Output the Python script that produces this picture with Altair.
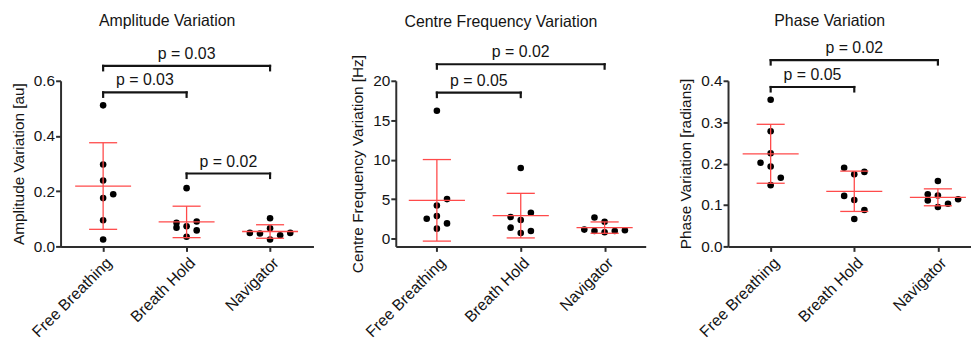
import altair as alt
import pandas as pd

categories = ["Free Breathing", "Breath Hold", "Navigator"]

# ---- Amplitude Variation [au] ----
amp_free = [0.511, 0.297, 0.239, 0.175, 0.095, 0.025, 0.189]
amp_hold = [0.211, 0.086, 0.068, 0.073, 0.090, 0.058, 0.035]
amp_nav = [0.102, 0.066, 0.025, 0.049, 0.047, 0.040, 0.049]
amp_free_col = [0, 0, 0, 0, 0, 0, 1]
amp_hold_col = [0, -1, -1, 0, 1, 1, 0]
amp_nav_col = [0, 0, 0, -2, -1, 1, 2]
amp_pairs = [(0, 1), (0, 2), (1, 2)]
amp_levels = [0.558, 0.654, 0.264]
amp_p = ["p = 0.03", "p = 0.03", "p = 0.02"]
amp_ticks = [0.0, 0.2, 0.4, 0.6]

# ---- Centre Frequency Variation [Hz] ----
cf_free = [16.2, 5.0, 4.18, 2.84, 2.5, 1.92, 1.25]
cf_hold = [8.95, 3.26, 2.72, 2.34, 1.38, 0.96, 0.71]
cf_nav = [2.67, 2.13, 1.13, 0.96, 0.79, 0.96, 1.04]
cf_free_col = [0, 1, 0, 0, -1, 1, 0]
cf_hold_col = [0, 1, -1, 0, -1, 1, 0]
cf_nav_col = [-1, 0, -2, -1, 0, 1, 2]
cf_pairs = [(0, 1), (0, 2)]
cf_levels = [18.5, 22.1]
cf_p = ["p = 0.05", "p = 0.02"]
cf_ticks = [0, 5, 10, 15, 20]

# ---- Phase Variation [radians] ----
ph_free = [0.354, 0.278, 0.225, 0.202, 0.193, 0.166, 0.148]
ph_hold = [0.190, 0.180, 0.174, 0.122, 0.112, 0.088, 0.066]
ph_nav = [0.158, 0.126, 0.123, 0.111, 0.095, 0.103, 0.114]
ph_free_col = [0, 0, 0, -1, 0, 1, 0]
ph_hold_col = [-1, 1, 0, -1, 0, 1, 0]
ph_nav_col = [0, -1, 0, -1, 0, 1, 2]
ph_pairs = [(0, 1), (0, 2)]
ph_levels = [0.385, 0.450]
ph_p = ["p = 0.05", "p = 0.02"]
ph_ticks = [0.0, 0.1, 0.2, 0.3, 0.4]

FONT = "Liberation Sans"
RED = "#ff4a4a"
INK = "#141414"
AXC = "#2e2e2e"
SLOT = 0.121
HALF_MEAN = 0.335
HALF_CAP = 0.168
H = 167

label_expr = "[" + ",".join("'" + c + "'" for c in categories) + "][datum.value]"


def panel(title, ytitle, groups, cols, pairs, levels, pvals, ydomain, yticks,
          yfmt, width, xdomain, toff):
    rows = []
    for i, (vals, cs) in enumerate(zip(groups, cols)):
        for v, c in zip(vals, cs):
            rows.append({"idx": i, "col": c, "value": v})
    df = pd.DataFrame(rows)
    br = pd.DataFrame({
        "a": [p[0] for p in pairs],
        "b": [p[1] for p in pairs],
        "level": levels,
        "label": pvals,
    })

    xscale = alt.Scale(domain=xdomain, nice=False, zero=False)
    yscale = alt.Scale(domain=ydomain, nice=False, zero=False)
    xaxis = alt.Axis(values=[0, 1, 2], labelExpr=label_expr, labelAngle=-45,
                     title=None, labelFontSize=16, labelPadding=3)
    yaxis = alt.Axis(values=yticks, format=yfmt, title=ytitle)

    def X(f):
        return alt.X(f + ":Q", scale=xscale, axis=xaxis)

    def Y(f):
        return alt.Y(f + ":Q", scale=yscale, axis=yaxis)

    base = alt.Chart(df)
    points = base.transform_calculate(
        xpos="datum.idx + datum.col * %f" % SLOT
    ).mark_circle(size=44, color="black", opacity=1).encode(
        x=X("xpos"), y=Y("value"))

    stats = base.transform_aggregate(
        mean="mean(value)", sd="stdev(value)", groupby=["idx"]
    ).transform_calculate(
        lo="datum.mean - datum.sd",
        hi="datum.mean + datum.sd",
        ml="datum.idx - %f" % HALF_MEAN,
        mr="datum.idx + %f" % HALF_MEAN,
        cl="datum.idx - %f" % HALF_CAP,
        cr="datum.idx + %f" % HALF_CAP,
    )
    mean_line = stats.mark_rule(color=RED, strokeWidth=1.3).encode(
        x=X("ml"), x2="mr:Q", y=Y("mean"))
    sd_line = stats.mark_rule(color=RED, strokeWidth=1.3).encode(
        x=X("idx"), y=Y("lo"), y2="hi:Q")
    caps = stats.transform_fold(["lo", "hi"], as_=["end", "yv"]).mark_rule(
        color=RED, strokeWidth=1.3).encode(x=X("cl"), x2="cr:Q", y=Y("yv"))

    bb = alt.Chart(br)
    bar_h = bb.mark_rule(color=INK, strokeWidth=2.2, strokeCap="square").encode(
        x=X("a"), x2="b:Q", y=Y("level"))
    bar_v = bb.transform_fold(["a", "b"], as_=["side", "xe"]).mark_rule(
        color=INK, strokeWidth=2.2, y2Offset=4.5, strokeCap="square").encode(
        x=X("xe"), y=Y("level"), y2="level:Q")
    text = bb.transform_calculate(xm="(datum.a + datum.b) / 2").mark_text(
        fontSize=16, font=FONT, color=INK, dy=-7, baseline="alphabetic").encode(
        x=X("xm"), y=Y("level"), text="label:N")

    return alt.layer(points, mean_line, sd_line, caps, bar_h, bar_v, text).properties(
        width=width, height=H,
        title=alt.TitleParams(title, fontSize=16, fontWeight="normal", font=FONT,
                              color=INK, offset=toff, dx=-20, anchor="middle"))


p1 = panel("Amplitude Variation", "Amplitude Variation [au]",
           [amp_free, amp_hold, amp_nav], [amp_free_col, amp_hold_col, amp_nav_col],
           amp_pairs, amp_levels, amp_p, [0, 0.6], amp_ticks, ".1f", 255,
           [-0.51, 2.52], 17.2)
p2 = panel("Centre Frequency Variation", "Centre Frequency Variation [Hz]",
           [cf_free, cf_hold, cf_nav], [cf_free_col, cf_hold_col, cf_nav_col],
           cf_pairs, cf_levels, cf_p, [-1, 20], cf_ticks, "d", 252,
           [-0.49, 2.49], 14.8)
p3 = panel("Phase Variation", "Phase Variation [radians]",
           [ph_free, ph_hold, ph_nav], [ph_free_col, ph_hold_col, ph_nav_col],
           ph_pairs, ph_levels, ph_p, [0, 0.4], ph_ticks, ".1f", 245,
           [-0.51, 2.396], 11.5)

chart = alt.hconcat(p1, p2, p3, spacing=83, bounds="flush").properties(
    padding={"left": 3, "top": 3, "right": 0, "bottom": 0}
).configure_view(stroke=None).configure_axis(
    grid=False,
    domainColor=AXC, domainWidth=2, tickColor=AXC, tickWidth=2, tickSize=5,
    labelFont=FONT, labelFontSize=15.5, labelColor=INK, labelPadding=1,
    titleFont=FONT, titleFontSize=15.5, titleFontWeight="normal", titleColor=INK,
    titlePadding=7,
)

chart.save("out.html", embed_options={"renderer": "svg", "actions": False})
